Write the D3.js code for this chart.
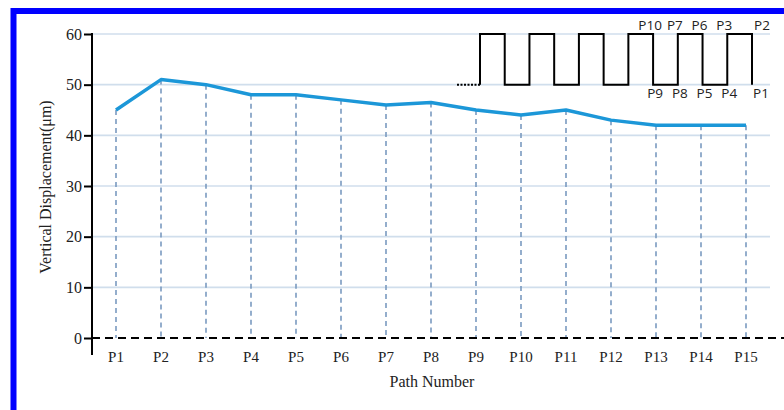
<!DOCTYPE html>
<html lang="en">
<head>
  <meta charset="UTF-8">
  <title>Vertical Displacement</title>
  <script src="https://cdn.jsdelivr.net/npm/d3@7/dist/d3.min.js"></script>
  <style>
  body { margin: 0; background: #fff; }
  svg { display: block; }
  .axis text { font-family: "Liberation Serif", serif; font-size: 15px; fill: #222; }
  .y-ticks text { font-size: 16px; }
  .axis line, .axis path { stroke: #000; stroke-width: 2; }
  .inset-label { font-family: "Open Sans", "Liberation Sans", sans-serif; font-size: 13.5px; fill: #222; }
  </style>
</head>
<body>
<svg id="chart" width="784" height="410"></svg>
<script>
// path labels and measured displacement (um)
const paths = ['P1','P2','P3','P4','P5','P6','P7','P8','P9','P10','P11','P12','P13','P14','P15'];
const displacement = [45, 51, 50, 48, 48, 47, 46, 46.5, 45, 44, 45, 43, 42, 42, 42];
const yTicks = [0, 10, 20, 30, 40, 50, 60];

// inset: scan path square wave (1 = high, 0 = low) and corner labels
const waveStates = [1, 0, 1, 0, 1, 0, 1, 0, 1, 0, 1];
const waveHigh = 60, waveLow = 50;
const insetTop = ['P10', 'P7', 'P6', 'P3', 'P2'];
const insetBottom = ['P9', 'P8', 'P5', 'P4', 'P1'];

const svg = d3.select('#chart');
const W = 784, H = 410;
const margin = {top: 34, right: 38, bottom: 72, left: 92};

// blue frame (right and bottom edges run off the picture)
svg.append('rect')
  .attr('x', 13.5).attr('y', 11)
  .attr('width', W + 20).attr('height', H + 20)
  .attr('fill', 'none')
  .attr('stroke', '#0000ff')
  .attr('stroke-width', 6);

const x = d3.scalePoint()
  .domain(paths)
  .range([116, 746]);

const y = d3.scaleLinear()
  .domain([0, 60])
  .range([338, margin.top]);

// light horizontal grid
svg.append('g')
  .selectAll('line')
  .data(yTicks.filter(d => d > 0))
  .join('line')
    .attr('x1', margin.left).attr('x2', 770)
    .attr('y1', d => y(d)).attr('y2', d => y(d))
    .attr('stroke', '#d0deec')
    .attr('stroke-width', 1.6);

// vertical drop lines from each point
svg.append('g')
  .selectAll('line')
  .data(displacement)
  .join('line')
    .attr('x1', (d, i) => x(paths[i])).attr('x2', (d, i) => x(paths[i]))
    .attr('y1', d => y(d)).attr('y2', y(0))
    .attr('stroke', '#7a9ac0')
    .attr('stroke-width', 1.6)
    .attr('stroke-dasharray', '5,4');

// zero baseline
svg.append('line')
  .attr('x1', margin.left).attr('x2', W)
  .attr('y1', y(0)).attr('y2', y(0))
  .attr('stroke', '#000')
  .attr('stroke-width', 2.2)
  .attr('stroke-dasharray', '8,5');

// y axis
const yAxis = svg.append('g')
  .attr('class', 'axis y-ticks')
  .attr('transform', `translate(${margin.left},0)`)
  .call(d3.axisLeft(y).tickValues(yTicks).tickSize(8).tickSizeOuter(0).tickPadding(2));
yAxis.select('.domain').remove();
yAxis.append('line')
  .attr('y1', y(60) - 1).attr('y2', y(0) + 17);

// x labels
svg.append('g')
  .attr('class', 'axis')
  .selectAll('text')
  .data(paths)
  .join('text')
    .attr('x', d => x(d))
    .attr('y', 362)
    .attr('text-anchor', 'middle')
    .text(d => d);

// displacement line
svg.append('path')
  .datum(displacement)
  .attr('fill', 'none')
  .attr('stroke', '#1c97d8')
  .attr('stroke-width', 3.5)
  .attr('stroke-linejoin', 'round')
  .attr('d', d3.line().x((d, i) => x(paths[i])).y(d => y(d)));

// axis titles
svg.append('text')
  .attr('x', 432).attr('y', 387)
  .attr('text-anchor', 'middle')
  .attr('font-family', 'Liberation Serif, serif')
  .attr('font-size', 16)
  .attr('fill', '#222')
  .text('Path Number');

svg.append('text')
  .attr('transform', 'translate(51,187) rotate(-90)')
  .attr('text-anchor', 'middle')
  .attr('font-family', 'Liberation Serif, serif')
  .attr('font-size', 16)
  .attr('fill', '#222')
  .text('Vertical Displacement(\u03bcm)');

// inset square wave
const wx = d3.scaleLinear().domain([0, waveStates.length]).range([480, 752]);
const level = s => y(s ? waveHigh : waveLow);
const wavePts = [[wx(0), level(0)]];
waveStates.forEach((s, i) => {
  wavePts.push([wx(i), level(s)]);
  wavePts.push([wx(i + 1), level(s)]);
});
wavePts.push([wx(waveStates.length), level(0)]);

svg.append('line')
  .attr('x1', 457).attr('x2', wx(0))
  .attr('y1', level(0)).attr('y2', level(0))
  .attr('stroke', '#000')
  .attr('stroke-width', 2)
  .attr('stroke-dasharray', '2,1.5');

svg.append('path')
  .datum(wavePts)
  .attr('fill', 'none')
  .attr('stroke', '#000')
  .attr('stroke-width', 2)
  .attr('d', d3.line());

// corner labels on the last five transitions
const k0 = waveStates.length - insetTop.length + 1;
svg.append('g')
  .selectAll('text')
  .data(insetTop)
  .join('text')
    .attr('class', 'inset-label')
    .attr('x', (d, i) => wx(k0 + i) + (i === insetTop.length - 1 ? 10 : -3))
    .attr('y', level(1) - 4)
    .attr('text-anchor', 'middle')
    .text(d => d);

svg.append('g')
  .selectAll('text')
  .data(insetBottom)
  .join('text')
    .attr('class', 'inset-label')
    .attr('x', (d, i) => wx(k0 + i) + (i === insetBottom.length - 1 ? 9 : 2))
    .attr('y', level(0) + 13)
    .attr('text-anchor', 'middle')
    .text(d => d);
</script>
</body>
</html>
